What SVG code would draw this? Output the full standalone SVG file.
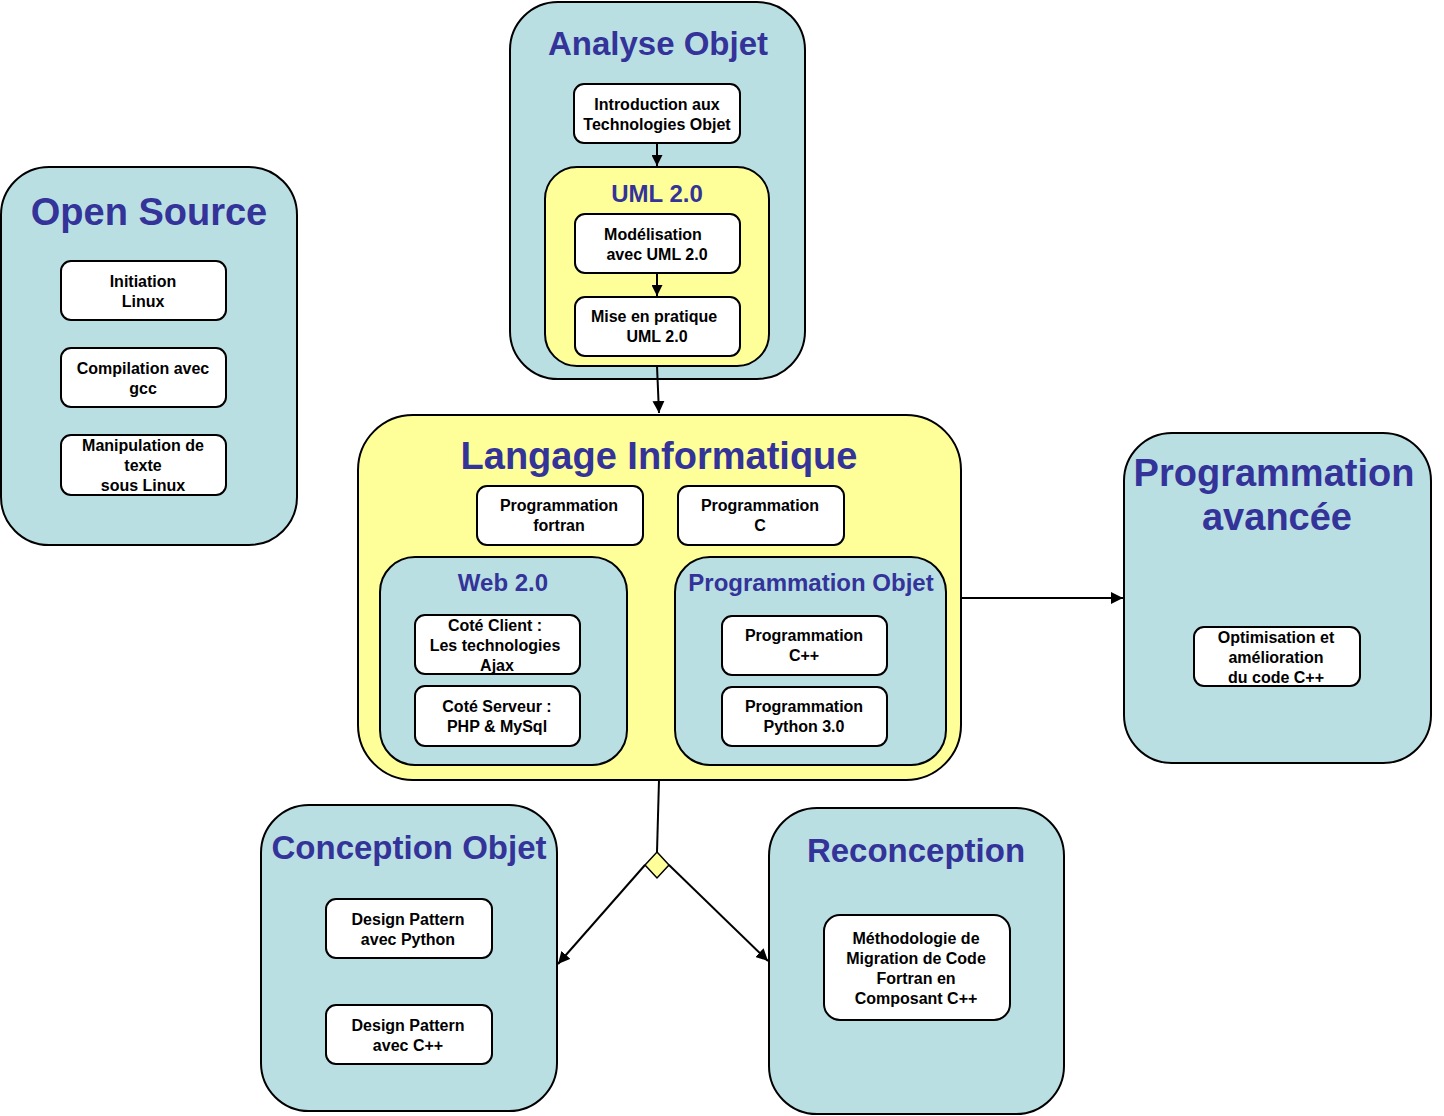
<svg xmlns="http://www.w3.org/2000/svg" width="1444" height="1116" viewBox="0 0 1444 1116">
<defs>
<style>
.bg{fill:#fff}
.teal{fill:#badfe3;stroke:#000;stroke-width:2}
.yel{fill:#ffff99;stroke:#000;stroke-width:2}
.box{fill:#fff;stroke:#000;stroke-width:2}
.t{font-family:"Liberation Sans",Arial,sans-serif;font-weight:bold;fill:#333399;text-anchor:middle}
.b{font-family:"Liberation Sans",Arial,sans-serif;font-weight:bold;font-size:16px;fill:#000;text-anchor:middle}
.c{stroke:#000;stroke-width:2;fill:none}
</style>
<marker id="ar" viewBox="0 0 10 10" refX="10" refY="5" markerWidth="11" markerHeight="11" orient="auto" markerUnits="userSpaceOnUse">
<path d="M0,0 L10,5 L0,10 z" fill="#000"/>
</marker>
<marker id="ar2" viewBox="0 0 10 10" refX="10" refY="5" markerWidth="12" markerHeight="12" orient="auto" markerUnits="userSpaceOnUse">
<path d="M0,0 L10,5 L0,10 z" fill="#000"/>
</marker>
</defs>
<rect class="bg" width="1444" height="1116"/>

<g id="open-source">
<rect class="teal" x="1" y="167" width="296" height="378" rx="48"/>
<text class="t" x="149" y="225" font-size="38">Open Source</text>
<rect class="box" x="61" y="261" width="165" height="59" rx="10"/>
<text class="b" x="143" y="287">Initiation</text>
<text class="b" x="143" y="307">Linux</text>
<rect class="box" x="61" y="348" width="165" height="59" rx="10"/>
<text class="b" x="143" y="374">Compilation  avec</text>
<text class="b" x="143" y="394">gcc</text>
<rect class="box" x="61" y="435" width="165" height="60" rx="10"/>
<text class="b" x="143" y="451">Manipulation  de</text>
<text class="b" x="143" y="471">texte</text>
<text class="b" x="143" y="491">sous Linux</text>
</g>

<g id="analyse-objet">
<rect class="teal" x="510" y="2" width="295" height="377" rx="48"/>
<text class="t" x="658" y="55" font-size="33">Analyse  Objet</text>
<rect class="box" x="574" y="84" width="166" height="59" rx="10"/>
<text class="b" x="657" y="110">Introduction aux</text>
<text class="b" x="657" y="130">Technologies  Objet</text>
</g>

<g id="uml">
<rect class="yel" x="545" y="167" width="224" height="199" rx="32"/>
<text class="t" x="657" y="202" font-size="24">UML 2.0</text>
<rect class="box" x="575" y="214" width="165" height="59" rx="10"/>
<text class="b" x="653" y="240">Modélisation</text>
<text class="b" x="657" y="260">avec  UML  2.0</text>
<rect class="box" x="575" y="297" width="165" height="59" rx="10"/>
<text class="b" x="654" y="322">Mise  en pratique</text>
<text class="b" x="657" y="342">UML 2.0</text>
</g>

<g id="langage-informatique">
<rect class="yel" x="358" y="415" width="603" height="365" rx="55"/>
<text class="t" x="659" y="469" font-size="38">Langage Informatique</text>
<rect class="box" x="477" y="486" width="166" height="59" rx="10"/>
<text class="b" x="559" y="511">Programmation</text>
<text class="b" x="559" y="531">fortran</text>
<rect class="box" x="678" y="486" width="166" height="59" rx="10"/>
<text class="b" x="760" y="511">Programmation</text>
<text class="b" x="760" y="531">C</text>
</g>

<g id="web20">
<rect class="teal" x="380" y="557" width="247" height="208" rx="35"/>
<text class="t" x="503" y="591" font-size="24">Web 2.0</text>
<rect class="box" x="415" y="615" width="165" height="59" rx="10"/>
<text class="b" x="495" y="631">Coté Client  :</text>
<text class="b" x="495" y="651">Les  technologies</text>
<text class="b" x="497" y="671">Ajax</text>
<rect class="box" x="415" y="686" width="165" height="60" rx="10"/>
<text class="b" x="497" y="712">Coté  Serveur  :</text>
<text class="b" x="497" y="732">PHP &amp; MySql</text>
</g>

<g id="programmation-objet">
<rect class="teal" x="675" y="557" width="271" height="208" rx="35"/>
<text class="t" x="811" y="591" font-size="24">Programmation  Objet</text>
<rect class="box" x="722" y="616" width="165" height="59" rx="10"/>
<text class="b" x="804" y="641">Programmation</text>
<text class="b" x="804" y="661">C++</text>
<rect class="box" x="722" y="687" width="165" height="59" rx="10"/>
<text class="b" x="804" y="712">Programmation</text>
<text class="b" x="804" y="732">Python 3.0</text>
</g>

<g id="programmation-avancee">
<rect class="teal" x="1124" y="433" width="307" height="330" rx="48"/>
<text class="t" x="1274" y="486" font-size="38">Programmation</text>
<text class="t" x="1277" y="530" font-size="38">avancée</text>
<rect class="box" x="1194" y="627" width="166" height="59" rx="10"/>
<text class="b" x="1276" y="643">Optimisation  et</text>
<text class="b" x="1276" y="663">amélioration</text>
<text class="b" x="1276" y="683">du code  C++</text>
</g>

<g id="conception-objet">
<rect class="teal" x="261" y="805" width="296" height="306" rx="48"/>
<text class="t" x="409" y="859" font-size="33">Conception  Objet</text>
<rect class="box" x="326" y="899" width="166" height="59" rx="10"/>
<text class="b" x="408" y="925">Design Pattern</text>
<text class="b" x="408" y="945">avec Python</text>
<rect class="box" x="326" y="1005" width="166" height="59" rx="10"/>
<text class="b" x="408" y="1031">Design Pattern</text>
<text class="b" x="408" y="1051">avec C++</text>
</g>

<g id="reconception">
<rect class="teal" x="769" y="808" width="295" height="306" rx="48"/>
<text class="t" x="916" y="862" font-size="33">Reconception</text>
<rect class="box" x="824" y="915" width="186" height="105" rx="16"/>
<text class="b" x="916" y="944">Méthodologie  de</text>
<text class="b" x="916" y="964">Migration de Code</text>
<text class="b" x="916" y="984">Fortran en</text>
<text class="b" x="916" y="1004">Composant C++</text>
</g>

<g id="connectors">
<line class="c" x1="657" y1="143" x2="657" y2="166" marker-end="url(#ar)"/>
<line class="c" x1="657" y1="273" x2="657" y2="296" marker-end="url(#ar)"/>
<line class="c" x1="657" y1="366" x2="659" y2="413" marker-end="url(#ar2)"/>
<line class="c" x1="961" y1="598" x2="1123" y2="598" marker-end="url(#ar2)"/>
<line class="c" x1="659" y1="780" x2="657" y2="852"/>
<polygon points="657,852 669,865 657,878 645,865" fill="#ffff99" stroke="#000" stroke-width="1.5"/>
<line class="c" x1="645" y1="865" x2="558" y2="964" marker-end="url(#ar2)"/>
<line class="c" x1="669" y1="865" x2="768" y2="961" marker-end="url(#ar2)"/>
</g>
</svg>
